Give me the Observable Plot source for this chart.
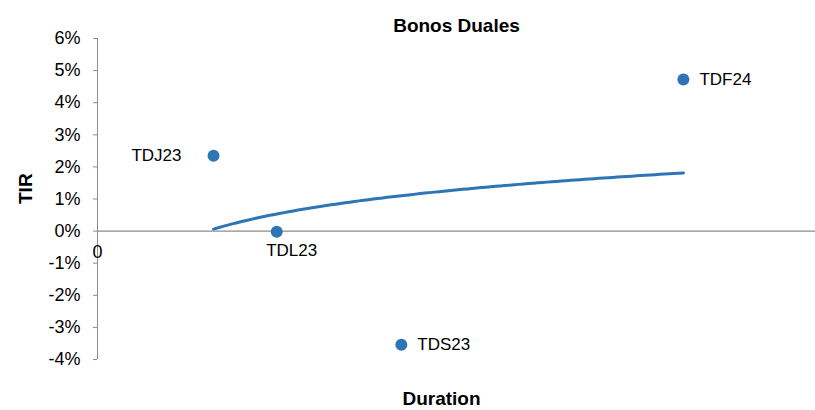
<!DOCTYPE html>
<html>
<head>
<meta charset="utf-8">
<script src="https://cdn.jsdelivr.net/npm/d3@7"></script>
<script src="https://cdn.jsdelivr.net/npm/@observablehq/plot@0.6"></script>
<style>
  html, body { margin: 0; padding: 0; background: #fff; }
  svg { font-family: "Liberation Sans", Arial, Helvetica, sans-serif; }
</style>
</head>
<body>
<div id="chart"></div>
<script>
// Data
const bonds = ["TDJ23", "TDL23", "TDS23", "TDF24"];
const duration = [0.202, 0.312, 0.529, 1.02];   // years (estimated)
const tir = [2.35, -0.02, -3.54, 4.72];          // %
const labelSide = ["left", "bottom", "right", "right"];
const yTicks = [-4, -3, -2, -1, 0, 1, 2, 3, 4, 5, 6];
const xTickLabels = [0];
const title = "Bonos Duales";
const yLabel = "TIR";
const xLabel = "Duration";

const points = bonds.map((b, i) => ({bond: b, x: duration[i], y: tir[i], side: labelSide[i]}));

// Logarithmic trend line (least squares fit of y = a + b ln x), as in the original
const lx = duration.map(Math.log);
const mx = d3.mean(lx), my = d3.mean(tir);
const bCoef = d3.sum(lx, (v, i) => (v - mx) * (tir[i] - my)) / d3.sum(lx, v => (v - mx) ** 2);
const aCoef = my - bCoef * mx;
const [xmin, xmax] = d3.extent(duration);
const trend = d3.range(0, 101).map(k => {
  const x = xmin + (xmax - xmin) * k / 100;
  return {x, y: aCoef + bCoef * Math.log(x)};
});

const blue = "#2e75b6";
const gray = "#8c8c8c";
const fs = 17;

const plot = Plot.plot({
  width: 815,
  height: 410,
  marginTop: 38,
  marginBottom: 51,
  marginLeft: 97,
  marginRight: 0,
  style: {fontSize: fs + "px", fontFamily: "Liberation Sans, Arial, sans-serif", color: "#000"},
  x: {domain: [0, 1.25], axis: null},
  y: {domain: [-4, 6], axis: null},
  marks: [
    Plot.axisY({ticks: yTicks, tickFormat: d => d + "%", tickSize: 4, tickPadding: 13, stroke: gray, label: null, fontSize: fs + 1}),
    Plot.ruleX([0], {y1: -4, y2: 6, stroke: gray, strokeWidth: 1}),
    Plot.ruleY([0], {stroke: gray, strokeWidth: 1.2}),
    Plot.text(xTickLabels, {x: d => d, y: 0, text: d => String(d), dy: 21, fontSize: fs + 1}),
    Plot.line(trend, {x: "x", y: "y", stroke: blue, strokeWidth: 3}),
    Plot.dot(points, {x: "x", y: "y", r: 6, fill: blue}),
    Plot.text(points.filter(d => d.side === "left"), {x: "x", y: "y", text: "bond", textAnchor: "end", dx: -32}),
    Plot.text(points.filter(d => d.side === "right"), {x: "x", y: "y", text: "bond", textAnchor: "start", dx: 16}),
    Plot.text(points.filter(d => d.side === "bottom"), {x: "x", y: "y", text: "bond", textAnchor: "middle", dx: 15, dy: 19}),
    Plot.text([title], {frameAnchor: "top", dy: -20, fontWeight: "bold", fontSize: 19}),
    Plot.text([yLabel], {frameAnchor: "left", dx: -72, dy: 5, rotate: -90, fontWeight: "bold", fontSize: 19}),
    Plot.text([xLabel], {frameAnchor: "bottom", dx: -15, dy: 45, fontWeight: "bold", fontSize: 19})
  ]
});
document.getElementById("chart").appendChild(plot);
</script>
</body>
</html>
